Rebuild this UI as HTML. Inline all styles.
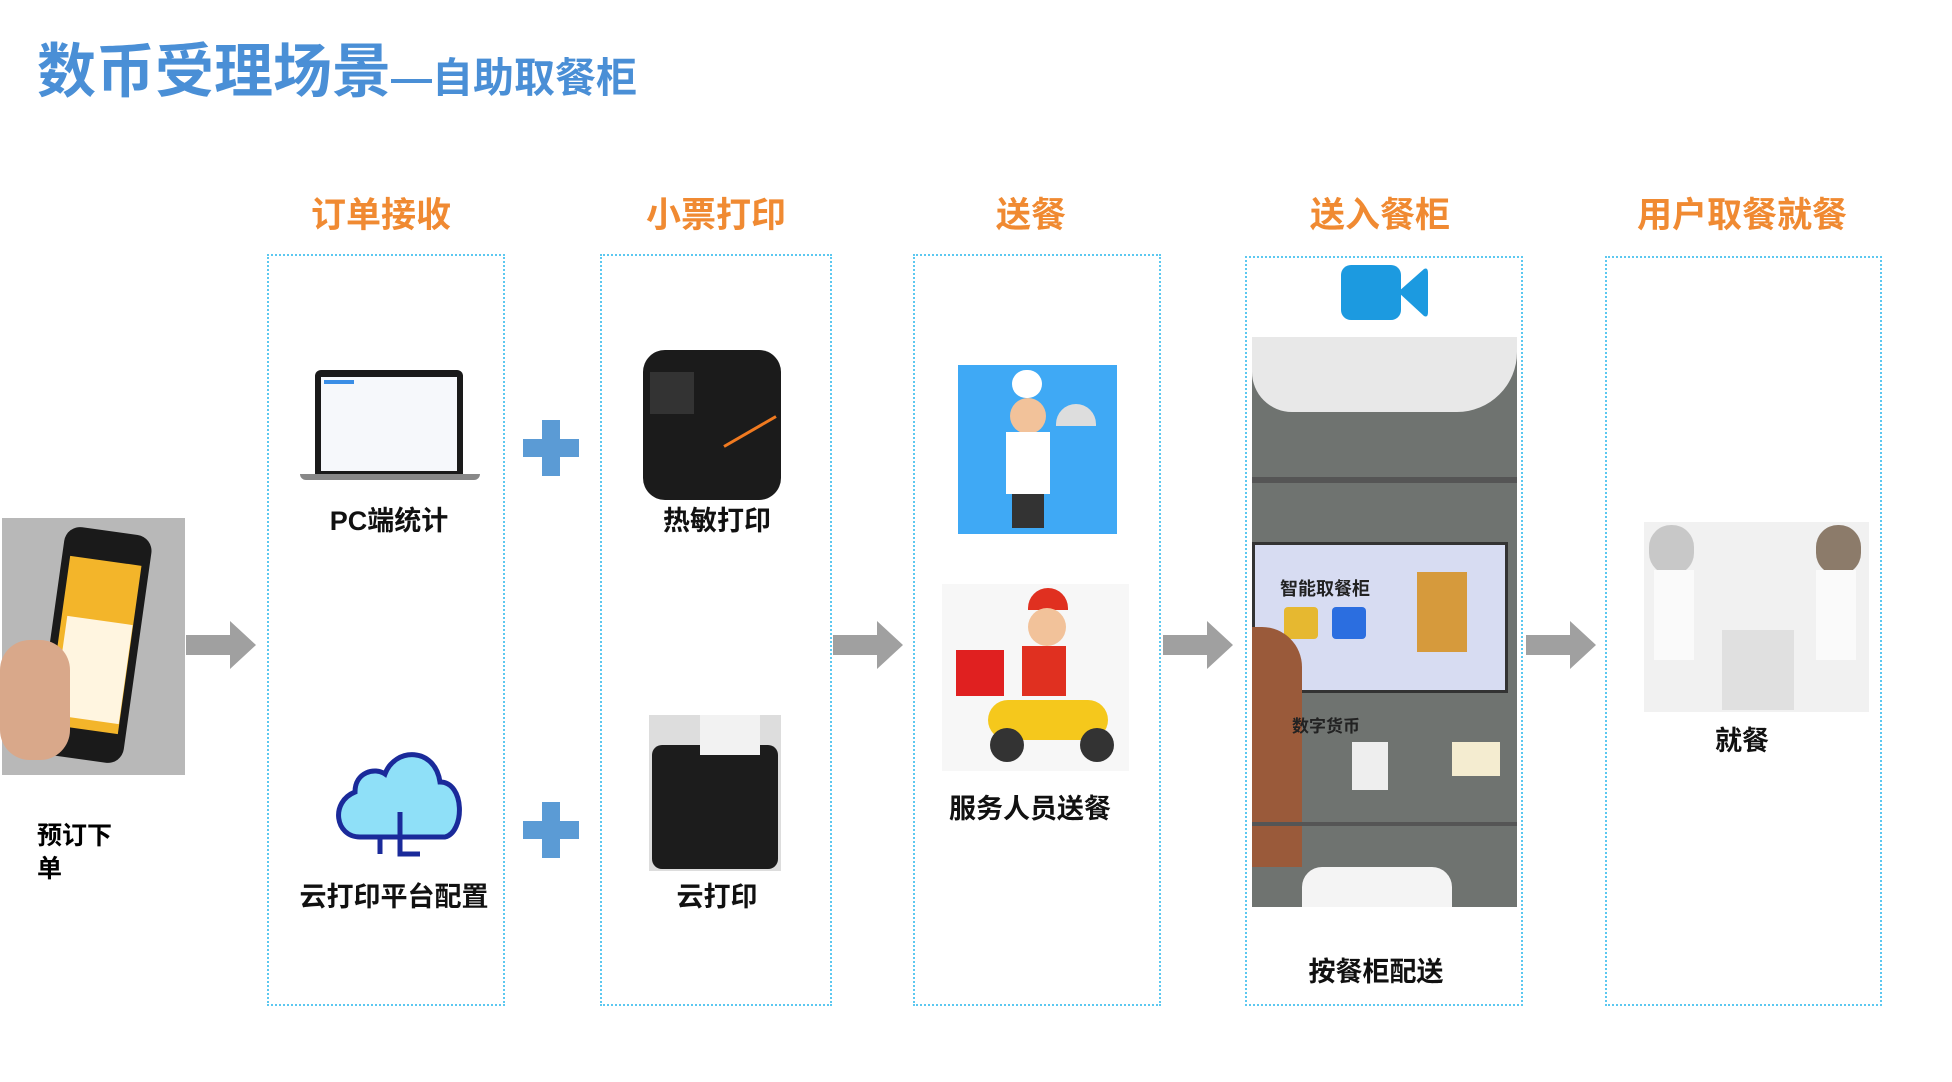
<!DOCTYPE html>
<html><head><meta charset="utf-8"><style>
body{margin:0;width:1952px;height:1082px;background:#fff;position:relative;overflow:hidden;font-family:"Liberation Sans","Noto Sans CJK SC",sans-serif}
.a{position:absolute}
.box{position:absolute;border:2px dotted #5cc8f0;box-sizing:border-box}
.h{position:absolute;color:#f08a32;font-size:35px;font-weight:bold;text-align:center;transform:translateX(-50%);white-space:nowrap;top:187px}
.l{position:absolute;color:#111;font-size:27px;font-weight:bold;transform:translateX(-50%);white-space:nowrap}
.arr{position:absolute;width:70px;height:48px}
.plus{position:absolute;width:56px;height:56px}
.plus:before{content:"";position:absolute;left:19px;top:0;width:18px;height:56px;background:#5b9bd5}
.plus:after{content:"";position:absolute;left:0;top:19px;width:56px;height:18px;background:#5b9bd5}
</style></head><body>
<div class="a" style="left:37px;top:24px;color:#4a8fd6;font-weight:bold;white-space:nowrap"><span style="font-size:59px">数币受理场景</span><span style="font-size:41px">—自助取餐柜</span></div>

<div class="h" style="left:381px">订单接收</div>
<div class="h" style="left:716px">小票打印</div>
<div class="h" style="left:1031px">送餐</div>
<div class="h" style="left:1380px">送入餐柜</div>
<div class="h" style="left:1742px">用户取餐就餐</div>

<div class="box" style="left:267px;top:254px;width:238px;height:752px"></div>
<div class="box" style="left:600px;top:254px;width:232px;height:752px"></div>
<div class="box" style="left:913px;top:254px;width:248px;height:752px"></div>
<div class="box" style="left:1245px;top:256px;width:278px;height:750px"></div>
<div class="box" style="left:1605px;top:256px;width:277px;height:750px"></div>

<!-- phone -->
<div class="a" style="left:2px;top:518px;width:183px;height:257px;background:#b8b8b8"></div>
<div class="a" style="left:50px;top:530px;width:88px;height:230px;background:#1a1a1a;border-radius:16px;transform:rotate(8deg)"></div>
<div class="a" style="left:58px;top:560px;width:72px;height:170px;background:#f3b52a;transform:rotate(8deg)"></div>
<div class="a" style="left:60px;top:620px;width:66px;height:100px;background:#fff5e0;transform:rotate(8deg)"></div>
<div class="a" style="left:0;top:640px;width:70px;height:120px;background:#d9a88a;border-radius:30px"></div>
<div class="a" style="left:37px;top:820px;font-size:25px;font-weight:bold;line-height:33px">预订下<br>单</div>

<!-- arrows -->
<svg class="arr" style="left:186px;top:621px" viewBox="0 0 70 48"><polygon points="0,14 44,14 44,0 70,24 44,48 44,34 0,34" fill="#a0a0a0"/></svg>
<svg class="arr" style="left:833px;top:621px" viewBox="0 0 70 48"><polygon points="0,14 44,14 44,0 70,24 44,48 44,34 0,34" fill="#a0a0a0"/></svg>
<svg class="arr" style="left:1163px;top:621px" viewBox="0 0 70 48"><polygon points="0,14 44,14 44,0 70,24 44,48 44,34 0,34" fill="#a0a0a0"/></svg>
<svg class="arr" style="left:1526px;top:621px" viewBox="0 0 70 48"><polygon points="0,14 44,14 44,0 70,24 44,48 44,34 0,34" fill="#a0a0a0"/></svg>

<div class="plus" style="left:523px;top:420px"></div>
<div class="plus" style="left:523px;top:802px"></div>

<!-- laptop -->
<div class="a" style="left:315px;top:370px;width:148px;height:104px;background:#1a1a1a;border-radius:6px 6px 0 0"></div>
<div class="a" style="left:321px;top:377px;width:136px;height:94px;background:#f6f8fb"></div>
<div class="a" style="left:324px;top:380px;width:30px;height:4px;background:#3a8ee6"></div>
<div class="a" style="left:300px;top:474px;width:180px;height:6px;background:#888;border-radius:0 0 6px 6px"></div>
<div class="l" style="left:389px;top:499px">PC端统计</div>

<!-- cloud -->
<svg class="a" style="left:330px;top:742px" width="136" height="118" viewBox="0 0 136 118">
<path d="M30,95 C5,95 0,60 25,50 C25,30 45,25 55,32 C65,5 105,5 110,40 C135,40 135,90 115,95 Z" fill="#8fe0f8" stroke="#1a2a9a" stroke-width="5"/>
<path d="M50,95 L50,112 M70,70 L70,112 L90,112" stroke="#1a2a9a" stroke-width="5" fill="none"/>
</svg>
<div class="l" style="left:394px;top:875px">云打印平台配置</div>

<!-- printer 1 -->
<div class="a" style="left:643px;top:350px;width:138px;height:150px;background:#1b1b1b;border-radius:22px"></div>
<div class="a" style="left:650px;top:372px;width:44px;height:42px;background:#333"></div>
<div class="a" style="left:720px;top:430px;width:60px;height:3px;background:#f07a20;transform:rotate(-30deg)"></div>
<div class="l" style="left:717px;top:499px">热敏打印</div>

<!-- printer 2 -->
<div class="a" style="left:649px;top:715px;width:132px;height:156px;background:#ddd"></div>
<div class="a" style="left:652px;top:745px;width:126px;height:124px;background:#1c1c1c;border-radius:10px"></div>
<div class="a" style="left:700px;top:715px;width:60px;height:40px;background:#f2f2f2"></div>
<div class="l" style="left:717px;top:875px">云打印</div>

<!-- chef -->
<div class="a" style="left:958px;top:365px;width:159px;height:169px;background:#3fa9f5"></div>
<div class="a" style="left:1012px;top:370px;width:30px;height:28px;background:#fff;border-radius:14px"></div>
<div class="a" style="left:1010px;top:398px;width:36px;height:36px;background:#f2c29a;border-radius:18px"></div>
<div class="a" style="left:1006px;top:432px;width:44px;height:62px;background:#fff"></div>
<div class="a" style="left:1012px;top:494px;width:32px;height:34px;background:#333"></div>
<div class="a" style="left:1056px;top:404px;width:40px;height:22px;background:#ddd;border-radius:20px 20px 0 0"></div>

<!-- delivery -->
<div class="a" style="left:942px;top:584px;width:187px;height:187px;background:#f7f7f7"></div>
<div class="a" style="left:956px;top:650px;width:48px;height:46px;background:#e02020"></div>
<div class="a" style="left:1028px;top:588px;width:40px;height:22px;background:#e03020;border-radius:20px 20px 0 0"></div>
<div class="a" style="left:1028px;top:608px;width:38px;height:38px;background:#f2c29a;border-radius:19px"></div>
<div class="a" style="left:1022px;top:646px;width:44px;height:50px;background:#e03020"></div>
<div class="a" style="left:988px;top:700px;width:120px;height:40px;background:#f5c81c;border-radius:20px"></div>
<div class="a" style="left:990px;top:728px;width:34px;height:34px;background:#333;border-radius:17px"></div>
<div class="a" style="left:1080px;top:728px;width:34px;height:34px;background:#333;border-radius:17px"></div>
<div class="l" style="left:1030px;top:787px">服务人员送餐</div>

<!-- camera icon -->
<div class="a" style="left:1341px;top:265px;width:60px;height:55px;background:#1c9ae0;border-radius:10px"></div>
<svg class="a" style="left:1396px;top:265px" width="32" height="55" viewBox="0 0 32 55"><path d="M2,27 L28,4 Q32,2 32,8 L32,47 Q32,53 28,51 Z" fill="#1c9ae0"/></svg>

<!-- locker photo -->
<div class="a" style="left:1252px;top:337px;width:265px;height:570px;background:#6f7370;overflow:hidden">
 <div class="a" style="left:0;top:0;width:265px;height:75px;background:#e8e8e8;border-radius:0 0 60px 40px"></div>
 <div class="a" style="left:0;top:140px;width:265px;height:6px;background:#555"></div>
 <div class="a" style="left:0;top:205px;width:250px;height:145px;background:#d7dcf2;border:3px solid #333"></div>
 <div class="a" style="left:28px;top:238px;font-size:18px;font-weight:bold;color:#222">智能取餐柜</div>
 <div class="a" style="left:32px;top:270px;width:34px;height:32px;background:#e6b830;border-radius:4px"></div>
 <div class="a" style="left:80px;top:270px;width:34px;height:32px;background:#2b6ee0;border-radius:4px"></div>
 <div class="a" style="left:165px;top:235px;width:50px;height:80px;background:#d69a3c"></div>
 <div class="a" style="left:0;top:290px;width:50px;height:240px;background:#9a5a3a;border-radius:0 40px 0 0"></div>
 <div class="a" style="left:40px;top:375px;font-size:17px;font-weight:bold;color:#222">数字货币</div>
 <div class="a" style="left:100px;top:405px;width:36px;height:48px;background:#eee"></div>
 <div class="a" style="left:200px;top:405px;width:48px;height:34px;background:#f4ecd0"></div>
 <div class="a" style="left:0;top:485px;width:265px;height:4px;background:#555"></div>
 <div class="a" style="left:50px;top:530px;width:150px;height:60px;background:#f4f4f4;border-radius:20px"></div>
</div>
<div class="l" style="left:1376px;top:950px">按餐柜配送</div>

<!-- dining -->
<div class="a" style="left:1644px;top:522px;width:225px;height:190px;background:#f1f1f1"></div>
<div class="a" style="left:1649px;top:525px;width:45px;height:50px;background:#c8c8c8;border-radius:22px"></div>
<div class="a" style="left:1654px;top:570px;width:40px;height:90px;background:#fafafa"></div>
<div class="a" style="left:1816px;top:525px;width:45px;height:50px;background:#8c7b6a;border-radius:22px"></div>
<div class="a" style="left:1816px;top:570px;width:40px;height:90px;background:#fafafa"></div>
<div class="a" style="left:1722px;top:630px;width:72px;height:80px;background:#e0e0e0"></div>
<div class="l" style="left:1742px;top:719px">就餐</div>
</body></html>
